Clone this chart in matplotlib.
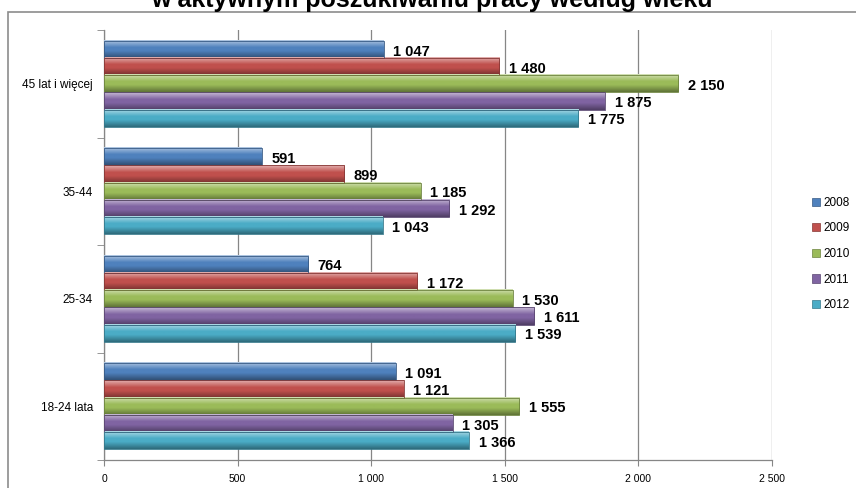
import numpy as np
import matplotlib
matplotlib.use('Agg')
import matplotlib.pyplot as plt
from matplotlib.patches import Rectangle
from matplotlib.colors import to_rgb

# data (categories listed bottom-up)
categories = ["18-24 lata", "25-34", "35-44", "45 lat i więcej"]
years = ["2008", "2009", "2010", "2011", "2012"]
v2008 = [1091, 764, 591, 1047]
v2009 = [1121, 1172, 899, 1480]
v2010 = [1555, 1530, 1185, 2150]
v2011 = [1305, 1611, 1292, 1875]
v2012 = [1366, 1539, 1043, 1775]
series = [v2008, v2009, v2010, v2011, v2012]
colors = ['#4F81BD', '#C0504D', '#9BBB59', '#8064A2', '#4BACC6']
xticks = [0, 500, 1000, 1500, 2000, 2500]
xticklabels = ["0", "500", "1 000", "1 500", "2 000", "2 500"]
title = "w aktywnym poszukiwaniu pracy według wieku"

plt.rcParams['font.family'] = ['Liberation Sans', 'DejaVu Sans']

W, H = 856, 488
fig = plt.figure(figsize=(W / 100, H / 100), dpi=100)
ax = fig.add_axes([104 / W, 1 - 460 / H, (772 - 104) / W, (460 - 30) / H])


def gradient(c, n=40):
    base = np.array(to_rgb(c))
    t = np.linspace(0, 1, n)
    rows = []
    for v in t:
        if v < 0.4:
            k = 1 - v / 0.4
            col = base + (1 - base) * 0.55 * k
        elif v < 0.6:
            col = base
        else:
            k = (v - 0.6) / 0.4
            col = base * (1 - 0.38 * k)
        rows.append(col)
    return np.array(rows).reshape(n, 1, 3)


h = 0.16
for j, vals in enumerate(series):
    off = (2 - j) * h
    img = gradient(colors[j])
    for i, v in enumerate(vals):
        y = i + off
        ax.imshow(img, extent=(0, v, y - h / 2, y + h / 2), origin='upper',
                  aspect='auto', interpolation='bilinear', zorder=3)
        ax.add_patch(Rectangle((0, y - h / 2), v, h, fill=False,
                               edgecolor=np.array(to_rgb(colors[j])) * 0.7,
                               lw=0.6, zorder=4))
        ax.text(v + 36, y - 0.02, "{:,}".format(v).replace(",", " "),
                fontsize=10.5, fontweight='bold', ha='left', va='center', zorder=5)

ax.set_xlim(0, 2500)
ax.set_ylim(-0.5, 3.5)
ax.set_xticks(xticks)
ax.set_xticklabels(xticklabels, fontsize=7.5)
ax.set_yticks(range(len(categories)))
ax.set_yticklabels(categories, fontsize=8.5)
ax.set_yticks(np.arange(-0.5, 4, 1), minor=True)
ax.tick_params(axis='y', which='major', length=0, pad=8)
ax.tick_params(axis='y', which='minor', length=5, color='#868686', direction='out')
ax.tick_params(axis='x', length=4, color='#868686', direction='out', pad=6)
ax.grid(True, axis='x', color='#868686', lw=0.9, zorder=0)
ax.set_axisbelow(True)
for s in ['top', 'right']:
    ax.spines[s].set_visible(False)
for s in ['left', 'bottom']:
    ax.spines[s].set_color('#868686')
    ax.spines[s].set_linewidth(0.9)

# legend
handles = [Rectangle((0, 0), 1, 1, facecolor=c, edgecolor=np.array(to_rgb(c)) * 0.7, lw=0.5)
           for c in colors]
fig.legend(handles, years, loc='center left', bbox_to_anchor=(812 / W, 1 - 254 / H),
           frameon=False, fontsize=8.5, handlelength=0.7, handleheight=0.7,
           handletextpad=0.3, labelspacing=1.15, borderaxespad=0, borderpad=0)

# outer chart frame (cropped)
fig.add_artist(Rectangle((8 / W, -0.1), 1.0, 1 - 12 / H + 0.1, transform=fig.transFigure,
                         fill=False, edgecolor='#8c8c8c', lw=1.2))
fig.text(432 / W, 1 - 6.5 / H, title, fontsize=18, fontweight='bold', ha='center', va='baseline')

fig.savefig('out.png', dpi=100)
